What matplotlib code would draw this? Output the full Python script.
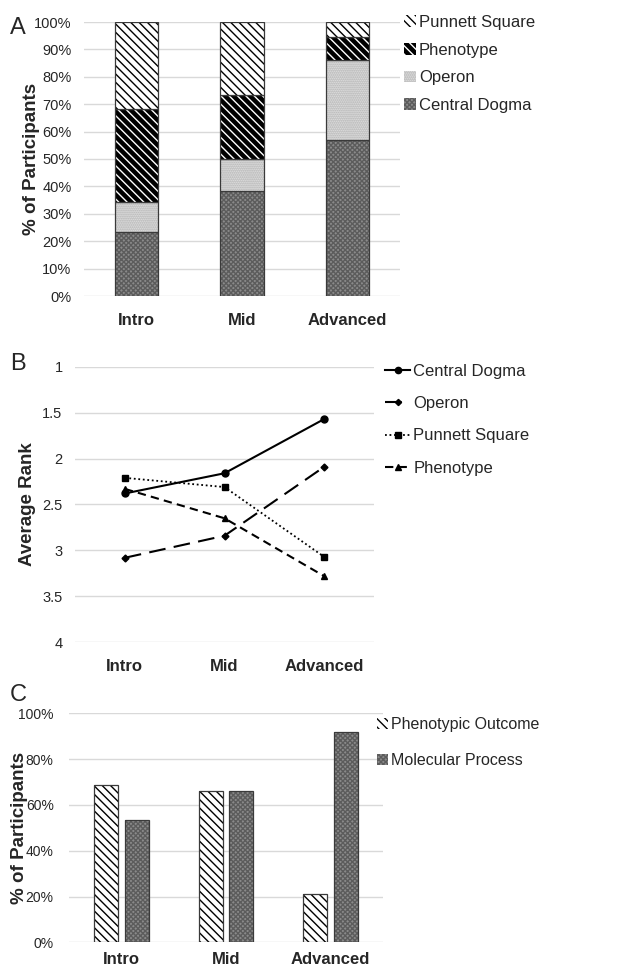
import matplotlib.pyplot as plt
import numpy as np

plt.rcParams['font.family'] = ['Liberation Sans', 'DejaVu Sans']
plt.rcParams['hatch.linewidth'] = 1.0

levels = ['Intro', 'Mid', 'Advanced']

# panel A, % of participants (stacked)
central_dogma = [23.5, 38.4, 57.0]
operon = [10.7, 11.6, 29.0]
phenotype = [34.1, 23.3, 8.7]
punnett = [31.7, 26.7, 5.3]

# panel B, average rank
rank_central = [2.38, 2.16, 1.57]
rank_operon = [3.08, 2.84, 2.09]
rank_punnett = [2.21, 2.31, 3.07]
rank_phenotype = [2.33, 2.65, 3.28]

# panel C, % of participants
phenotypic_outcome = [68.5, 66.0, 21.0]
molecular_process = [53.5, 66.0, 91.8]

W, H = 633, 969
fig = plt.figure(figsize=(W / 100, H / 100), dpi=100)

GRID = '#d9d9d9'
TXT = '#262626'
EDGE = '#3a3a3a'


def px_axes(l, t, r, b):
    return fig.add_axes([l / W, 1 - b / H, (r - l) / W, (b - t) / H])


def style(ax, xpad=12, ysize=10.5, ypad=9):
    for s in ax.spines.values():
        s.set_visible(False)
    ax.tick_params(length=0, labelsize=ysize, colors=TXT)
    ax.tick_params(axis='y', pad=ypad)
    ax.tick_params(axis='x', pad=xpad)
    ax.yaxis.grid(True, color=GRID, lw=1.0)
    ax.set_axisbelow(True)
    ax.set_xticks(range(3))
    ax.set_xticklabels(levels, fontsize=12, fontweight='bold', color=TXT)


def fill_style(name):
    if name == 'punnett':
        return dict(facecolor='white', edgecolor='black', hatch='\\' * 4)
    if name == 'phenotype':
        return dict(facecolor='black', edgecolor='white', hatch='\\' * 4)
    if name == 'operon':
        return dict(facecolor='#e8e8e8', edgecolor='#a8a8a8', hatch='.' * 8)
    return dict(facecolor='#8a8a8a', edgecolor='#5c5c5c', hatch='x' * 7)


def hatched_bar(ax, x, h, w, bottom, name, label=None):
    ax.bar(x, h, w, bottom=bottom, linewidth=0, label=label, **fill_style(name))
    ax.bar(x, h, w, bottom=bottom, fill=False, edgecolor=EDGE, linewidth=0.9)


def ylab(ax, text, xc):
    ax.set_ylabel(text, fontsize=13.5, fontweight='bold', color=TXT)
    ax.yaxis.set_label_coords(xc, 0.5)


# ---------------- A ----------------
axA = px_axes(84, 22, 400, 296)
style(axA)
x = np.arange(3)
bw = 0.41
bottom = np.zeros(3)
series = [(central_dogma, 'central', 'Central Dogma'),
          (operon, 'operon', 'Operon'),
          (phenotype, 'phenotype', 'Phenotype'),
          (punnett, 'punnett', 'Punnett Square')]
for vals, name, lab in series:
    hatched_bar(axA, x, vals, bw, bottom, name, lab)
    bottom = bottom + np.array(vals)
axA.set_xlim(-0.5, 2.5)
axA.set_ylim(0, 100)
axA.set_yticks(range(0, 101, 10))
axA.set_yticklabels([f'{v}%' for v in range(0, 101, 10)])
ylab(axA, '% of Participants', -0.14)
h, l = axA.get_legend_handles_labels()
axA.legend(h[::-1], l[::-1], loc='upper left', bbox_to_anchor=(404 / W, 1 - 15 / H),
           bbox_transform=fig.transFigure, frameon=False, fontsize=12,
           handlelength=0.7, handleheight=0.7, handletextpad=0.2,
           labelspacing=0.76, borderpad=0, borderaxespad=0, labelcolor=TXT)

# ---------------- B ----------------
axB = px_axes(75, 366.7, 374, 642.3)
style(axB)
axB.plot(x, rank_central, color='black', lw=1.5, marker='o', ms=5, label='Central Dogma')
axB.plot(x, rank_operon, color='black', lw=1.5, marker='D', ms=3.5,
         dashes=(8, 4), label='Operon')
axB.plot(x, rank_punnett, color='black', lw=1.3, marker='s', ms=4.5,
         linestyle=(0, (1, 1.5)), label='Punnett Square')
axB.plot(x, rank_phenotype, color='black', lw=1.5, marker='^', ms=5,
         dashes=(4, 2.5), label='Phenotype')
axB.set_xlim(-0.5, 2.5)
axB.set_ylim(4, 1)
axB.set_yticks([1, 1.5, 2, 2.5, 3, 3.5, 4])
axB.set_yticklabels(['1', '1.5', '2', '2.5', '3', '3.5', '4'])
ylab(axB, 'Average Rank', -0.13)
axB.legend(loc='upper left', bbox_to_anchor=(385 / W, 1 - 364 / H),
           bbox_transform=fig.transFigure, frameon=False, fontsize=12,
           handlelength=1.5, handletextpad=0.2, markerscale=0.9,
           labelspacing=1.03, borderpad=0, borderaxespad=0, labelcolor=TXT)

# ---------------- C ----------------
axC = px_axes(69, 713.3, 383, 942.3)
style(axC, xpad=7, ysize=10, ypad=11)
off = 0.146
cw = 0.23
hatched_bar(axC, x - off, phenotypic_outcome, cw, 0, 'punnett', 'Phenotypic Outcome')
hatched_bar(axC, x + off, molecular_process, cw, 0, 'central', 'Molecular Process')
axC.set_xlim(-0.5, 2.5)
axC.set_ylim(0, 100)
axC.set_yticks(range(0, 101, 20))
axC.set_yticklabels([f'{v}%' for v in range(0, 101, 20)])
ylab(axC, '% of Participants', -0.132)
axC.legend(loc='upper left', bbox_to_anchor=(377 / W, 1 - 717 / H),
           bbox_transform=fig.transFigure, frameon=False, fontsize=11.5,
           handlelength=0.7, handleheight=0.7, handletextpad=0.2,
           labelspacing=1.3, borderpad=0, borderaxespad=0, labelcolor=TXT)

for letter, xx, yy in [('A', 10, 28), ('B', 10, 364), ('C', 10, 695)]:
    fig.text(xx / W, 1 - yy / H, letter, fontsize=17, va='center', ha='left', color=TXT)

fig.savefig('out.png', dpi=100)
